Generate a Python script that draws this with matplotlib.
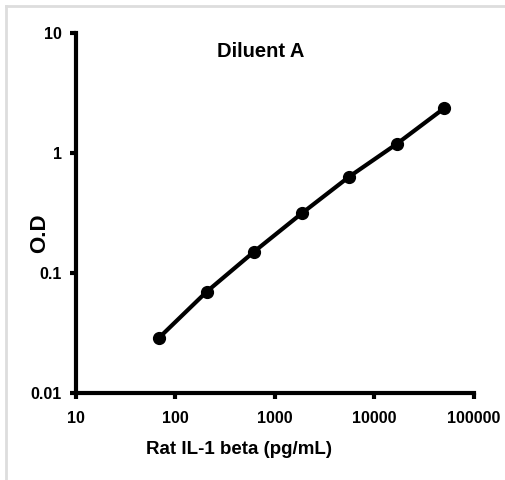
import matplotlib
matplotlib.use("Agg")
import matplotlib.pyplot as plt
from matplotlib.lines import Line2D
from matplotlib.ticker import FixedLocator, FixedFormatter, NullLocator

# standard curve, 3-fold dilutions
conc = [68.6, 205.8, 617.3, 1852, 5556, 16667, 50000]
od = [0.029, 0.070, 0.151, 0.314, 0.635, 1.19, 2.36]

x_ticks = [10, 100, 1000, 10000, 100000]
x_labels = ["10", "100", "1000", "10000", "100000"]
y_ticks = [0.01, 0.1, 1, 10]
y_labels = ["0.01", "0.1", "1", "10"]

plt.rcParams["font.family"] = ["Liberation Sans", "DejaVu Sans"]

fig = plt.figure(figsize=(5.05, 4.80), dpi=100)
ax = fig.add_axes([0.1505, 0.181, 0.788, 0.75])

ax.plot(conc, od, color="black", lw=3, marker="o", ms=8.5, zorder=3)

ax.set_xscale("log")
ax.set_yscale("log")
ax.set_xlim(10, 100000)
ax.set_ylim(0.01, 10)

ax.xaxis.set_major_locator(FixedLocator(x_ticks))
ax.xaxis.set_major_formatter(FixedFormatter(x_labels))
ax.yaxis.set_major_locator(FixedLocator(y_ticks))
ax.yaxis.set_major_formatter(FixedFormatter(y_labels))
ax.xaxis.set_minor_locator(NullLocator())
ax.yaxis.set_minor_locator(NullLocator())

for s in ["top", "right"]:
    ax.spines[s].set_visible(False)
for s in ["left", "bottom"]:
    ax.spines[s].set_linewidth(3)
ax.tick_params(axis="both", which="major", length=4, width=3, direction="out",
               labelsize=11.5)
ax.tick_params(axis="x", pad=9)
ax.tick_params(axis="y", pad=6)
for lab in ax.get_xticklabels() + ax.get_yticklabels():
    lab.set_fontweight("bold")

ax.text(0.465, 0.95, "Diluent A", transform=ax.transAxes, ha="center",
        va="center", fontsize=14.5, fontweight="bold")
ax.set_xlabel("Rat IL-1 beta (pg/mL)", fontsize=13.5, fontweight="bold")
ax.xaxis.set_label_coords(0.41, -0.133)
ax.set_ylabel("O.D", fontsize=16, fontweight="bold")
ax.yaxis.set_label_coords(-0.065, 0.444)

# light grey frame of the original image
grey = "#dddddd"
fig.add_artist(Line2D([6 / 505, 1], [1 - 6 / 480] * 2, color=grey, lw=2,
                      transform=fig.transFigure))
fig.add_artist(Line2D([6 / 505] * 2, [0, 1 - 6 / 480], color=grey, lw=2,
                      transform=fig.transFigure))

fig.savefig("out.png", dpi=100)
